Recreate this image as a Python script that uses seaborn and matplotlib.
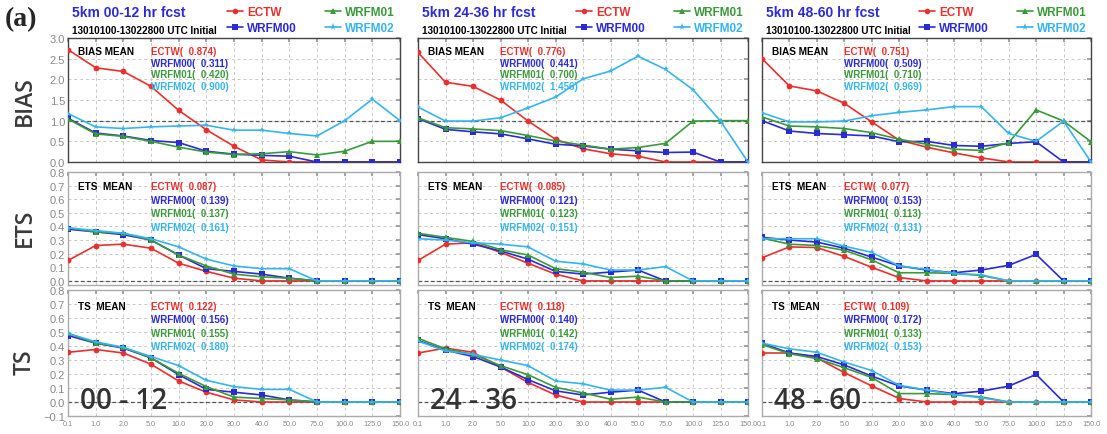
import numpy as np
import pandas as pd
import matplotlib
matplotlib.use("Agg")
import matplotlib.pyplot as plt
from matplotlib.lines import Line2D
import seaborn as sns

# ---------------- data ----------------
thresholds = ["0.1", "1.0", "2.0", "5.0", "10.0", "20.0", "30.0", "40.0",
              "50.0", "75.0", "100.0", "125.0", "150.0"]
models = ["ECTW", "WRFM00", "WRFM01", "WRFM02"]
periods = ["00-12", "24-36", "48-60"]
period_labels = ["00 - 12", "24 - 36", "48 - 60"]
metrics = ["BIAS", "ETS", "TS"]

bias_0012_ectw = [2.72, 2.28, 2.19, 1.83, 1.25, 0.78, 0.38, 0.05, 0.0, 0.0, 0.0, 0.0, 0.0]
bias_0012_wrfm00 = [1.06, 0.70, 0.63, 0.52, 0.47, 0.26, 0.19, 0.16, 0.14, 0.0, 0.0, 0.0, 0.0]
bias_0012_wrfm01 = [1.04, 0.68, 0.62, 0.50, 0.36, 0.24, 0.18, 0.20, 0.25, 0.17, 0.26, 0.50, 0.50]
bias_0012_wrfm02 = [1.17, 0.85, 0.81, 0.85, 0.87, 0.89, 0.77, 0.77, 0.69, 0.63, 1.00, 1.52, 1.00]

bias_2436_ectw = [2.65, 1.93, 1.83, 1.50, 0.99, 0.55, 0.32, 0.20, 0.14, 0.0, 0.0, 0.0, 0.0]
bias_2436_wrfm00 = [1.05, 0.79, 0.73, 0.68, 0.56, 0.43, 0.39, 0.31, 0.27, 0.23, 0.24, 0.0, 0.0]
bias_2436_wrfm01 = [1.07, 0.83, 0.80, 0.76, 0.64, 0.51, 0.41, 0.31, 0.35, 0.45, 0.99, 1.0, 1.0]
bias_2436_wrfm02 = [1.33, 0.99, 0.99, 1.07, 1.31, 1.57, 2.01, 2.20, 2.56, 2.24, 1.75, 0.99, 0.0]

bias_4860_ectw = [2.50, 1.84, 1.72, 1.42, 0.97, 0.53, 0.36, 0.22, 0.10, 0.0, 0.0, 0.0, 0.0]
bias_4860_wrfm00 = [1.00, 0.75, 0.69, 0.66, 0.63, 0.49, 0.50, 0.40, 0.38, 0.45, 0.49, 0.0, 0.0]
bias_4860_wrfm01 = [1.09, 0.87, 0.85, 0.81, 0.71, 0.55, 0.43, 0.31, 0.28, 0.47, 1.26, 0.99, 0.49]
bias_4860_wrfm02 = [1.19, 0.97, 0.97, 0.99, 1.12, 1.20, 1.26, 1.34, 1.34, 0.69, 0.50, 0.99, 0.0]

ets_0012_ectw = [0.15, 0.26, 0.27, 0.24, 0.13, 0.07, 0.02, 0.0, 0.0, 0.0, 0.0, 0.0, 0.0]
ets_0012_wrfm00 = [0.38, 0.36, 0.34, 0.30, 0.19, 0.09, 0.07, 0.05, 0.02, 0.0, 0.0, 0.0, 0.0]
ets_0012_wrfm01 = [0.39, 0.36, 0.35, 0.30, 0.19, 0.11, 0.05, 0.03, 0.02, 0.0, 0.0, 0.0, 0.0]
ets_0012_wrfm02 = [0.39, 0.37, 0.35, 0.31, 0.25, 0.16, 0.11, 0.09, 0.09, 0.0, 0.0, 0.0, 0.0]

ets_2436_ectw = [0.15, 0.27, 0.28, 0.21, 0.13, 0.05, 0.0, 0.0, 0.0, 0.0, 0.0, 0.0, 0.0]
ets_2436_wrfm00 = [0.34, 0.31, 0.27, 0.22, 0.16, 0.07, 0.05, 0.065, 0.08, 0.0, 0.0, 0.0, 0.0]
ets_2436_wrfm01 = [0.35, 0.32, 0.29, 0.23, 0.19, 0.09, 0.065, 0.025, 0.035, 0.0, 0.0, 0.0, 0.0]
ets_2436_wrfm02 = [0.31, 0.30, 0.28, 0.27, 0.25, 0.145, 0.125, 0.08, 0.08, 0.105, 0.0, 0.0, 0.0]

ets_4860_ectw = [0.17, 0.25, 0.245, 0.18, 0.10, 0.025, 0.0, 0.0, 0.0, 0.0, 0.0, 0.0, 0.0]
ets_4860_wrfm00 = [0.32, 0.30, 0.285, 0.24, 0.175, 0.11, 0.08, 0.06, 0.08, 0.115, 0.195, 0.0, 0.0]
ets_4860_wrfm01 = [0.315, 0.27, 0.26, 0.225, 0.155, 0.06, 0.06, 0.055, 0.04, 0.0, 0.0, 0.0, 0.0]
ets_4860_wrfm02 = [0.31, 0.31, 0.31, 0.255, 0.21, 0.11, 0.085, 0.055, 0.045, 0.0, 0.0, 0.0, 0.0]

ts_0012_ectw = [0.355, 0.375, 0.35, 0.27, 0.15, 0.07, 0.015, 0.0, 0.0, 0.0, 0.0, 0.0, 0.0]
ts_0012_wrfm00 = [0.475, 0.42, 0.385, 0.315, 0.195, 0.09, 0.07, 0.05, 0.015, 0.0, 0.0, 0.0, 0.0]
ts_0012_wrfm01 = [0.49, 0.42, 0.39, 0.315, 0.205, 0.11, 0.035, 0.025, 0.015, 0.0, 0.0, 0.0, 0.0]
ts_0012_wrfm02 = [0.49, 0.43, 0.39, 0.325, 0.26, 0.155, 0.11, 0.09, 0.09, 0.0, 0.0, 0.0, 0.0]

ts_2436_ectw = [0.35, 0.385, 0.355, 0.25, 0.14, 0.05, 0.0, 0.0, 0.0, 0.0, 0.0, 0.0, 0.0]
ts_2436_wrfm00 = [0.44, 0.37, 0.325, 0.25, 0.16, 0.08, 0.05, 0.07, 0.085, 0.0, 0.0, 0.0, 0.0]
ts_2436_wrfm01 = [0.455, 0.38, 0.34, 0.26, 0.195, 0.105, 0.065, 0.02, 0.035, 0.0, 0.0, 0.0, 0.0]
ts_2436_wrfm02 = [0.435, 0.365, 0.34, 0.30, 0.26, 0.15, 0.13, 0.085, 0.085, 0.105, 0.0, 0.0, 0.0]

ts_4860_ectw = [0.35, 0.35, 0.315, 0.21, 0.115, 0.025, 0.0, 0.0, 0.0, 0.0, 0.0, 0.0, 0.0]
ts_4860_wrfm00 = [0.42, 0.35, 0.325, 0.265, 0.185, 0.115, 0.085, 0.06, 0.077, 0.113, 0.197, 0.0, 0.0]
ts_4860_wrfm01 = [0.41, 0.345, 0.31, 0.245, 0.175, 0.06, 0.06, 0.053, 0.036, 0.0, 0.0, 0.0, 0.0]
ts_4860_wrfm02 = [0.42, 0.38, 0.355, 0.285, 0.225, 0.12, 0.085, 0.053, 0.03, 0.0, 0.0, 0.0, 0.0]

bias_mean_0012 = [0.874, 0.311, 0.420, 0.900]
bias_mean_2436 = [0.776, 0.441, 0.700, 1.456]
bias_mean_4860 = [0.751, 0.509, 0.710, 0.969]
ets_mean_0012 = [0.087, 0.139, 0.137, 0.161]
ets_mean_2436 = [0.085, 0.121, 0.123, 0.151]
ets_mean_4860 = [0.077, 0.153, 0.113, 0.131]
ts_mean_0012 = [0.122, 0.156, 0.155, 0.180]
ts_mean_2436 = [0.118, 0.140, 0.142, 0.174]
ts_mean_4860 = [0.109, 0.172, 0.133, 0.153]

series = {
    ("BIAS", 0): [bias_0012_ectw, bias_0012_wrfm00, bias_0012_wrfm01, bias_0012_wrfm02],
    ("BIAS", 1): [bias_2436_ectw, bias_2436_wrfm00, bias_2436_wrfm01, bias_2436_wrfm02],
    ("BIAS", 2): [bias_4860_ectw, bias_4860_wrfm00, bias_4860_wrfm01, bias_4860_wrfm02],
    ("ETS", 0): [ets_0012_ectw, ets_0012_wrfm00, ets_0012_wrfm01, ets_0012_wrfm02],
    ("ETS", 1): [ets_2436_ectw, ets_2436_wrfm00, ets_2436_wrfm01, ets_2436_wrfm02],
    ("ETS", 2): [ets_4860_ectw, ets_4860_wrfm00, ets_4860_wrfm01, ets_4860_wrfm02],
    ("TS", 0): [ts_0012_ectw, ts_0012_wrfm00, ts_0012_wrfm01, ts_0012_wrfm02],
    ("TS", 1): [ts_2436_ectw, ts_2436_wrfm00, ts_2436_wrfm01, ts_2436_wrfm02],
    ("TS", 2): [ts_4860_ectw, ts_4860_wrfm00, ts_4860_wrfm01, ts_4860_wrfm02],
}
means = {
    ("BIAS", 0): bias_mean_0012, ("BIAS", 1): bias_mean_2436, ("BIAS", 2): bias_mean_4860,
    ("ETS", 0): ets_mean_0012, ("ETS", 1): ets_mean_2436, ("ETS", 2): ets_mean_4860,
    ("TS", 0): ts_mean_0012, ("TS", 1): ts_mean_2436, ("TS", 2): ts_mean_4860,
}

# ---------------- style ----------------
sns.set_theme(style="white")
plt.rcParams["font.family"] = ["Liberation Sans", "DejaVu Sans"]

colors = {"ECTW": "#e8312f", "WRFM00": "#2b2bd6", "WRFM01": "#3a9a3a", "WRFM02": "#36b4ee"}
markers = {"ECTW": "o", "WRFM00": "s", "WRFM01": "^", "WRFM02": "*"}

W, H = 1107, 435
fig = plt.figure(figsize=(W / 100, H / 100), dpi=100)

col_px = [(68, 400), (418, 748), (762, 1091)]
row_px = {"BIAS": (39, 163), "ETS": (173, 286), "TS": (291, 417)}
ylims = {"BIAS": (0.0, 3.0), "ETS": (-0.03, 0.8), "TS": (-0.1, 0.8)}
yticks = {"BIAS": np.arange(0, 3.01, 0.5), "ETS": np.arange(0, 0.81, 0.1),
          "TS": np.arange(-0.1, 0.81, 0.1)}
mean_y = {"BIAS": (0.895, 0.093), "ETS": (0.876, 0.12), "TS": (0.873, 0.107)}
row_label_y = {"BIAS": 101, "ETS": 228, "TS": 362}

for metric in metrics:
    top, bot = row_px[metric]
    for c in range(3):
        l, r = col_px[c]
        ax = fig.add_axes([l / W, 1 - bot / H, (r - l) / W, (bot - top) / H])
        vals = series[(metric, c)]
        df = pd.DataFrame({
            "x": np.tile(np.arange(len(thresholds)), len(models)),
            "value": np.concatenate(vals),
            "model": np.repeat(models, len(thresholds)),
        })
        ax.set_xlim(0, len(thresholds) - 1)
        ax.set_ylim(*ylims[metric])
        ax.set_xticks(np.arange(len(thresholds)))
        ax.set_yticks(yticks[metric])
        ax.grid(True, color="#c8c8c8", linestyle=(0, (3, 3)), linewidth=0.7)
        ref = 1.0 if metric == "BIAS" else 0.0
        ax.axhline(ref, color="#555555", linestyle=(0, (3, 2)), linewidth=0.9, zorder=1)
        sns.lineplot(data=df, x="x", y="value", hue="model", style="model",
                     hue_order=models, style_order=models, palette=colors,
                     markers=markers, dashes=False, markersize=4.2, linewidth=1.2,
                     markeredgewidth=0, legend=False, ax=ax, zorder=3)
        ax.set_xlabel("")
        ax.set_ylabel("")
        ax.tick_params(direction="in", length=3, color="#999999", labelsize=8,
                       labelcolor="#888888", pad=2, top=True, right=True)
        ax.tick_params(axis="x", labelsize=5.2, pad=3)
        if metric == "TS":
            ax.set_xticklabels(thresholds)
        else:
            ax.set_xticklabels([])
        if c == 0:
            ax.set_yticklabels([f"{v:.1f}".replace("-", "\u2212") for v in yticks[metric]])
        else:
            ax.set_yticklabels([])
        spine_col = "#444444" if metric == "BIAS" else "#aaaaaa"
        for s in ax.spines.values():
            s.set_color(spine_col)
            s.set_linewidth(1.0)

        # mean statistics text
        y0, dy = mean_y[metric]
        mlabel = "BIAS MEAN" if metric == "BIAS" else f"{metric}  MEAN"
        ax.text(0.03, y0, mlabel, transform=ax.transAxes, fontsize=7.2,
                fontweight="bold", color="black", va="center")
        for k, m in enumerate(models):
            ax.text(0.25, y0 - k * dy, f"{m}(  {means[(metric, c)][k]:.3f})",
                    transform=ax.transAxes, fontsize=7, fontweight="bold",
                    color=colors[m], va="center")

        if metric == "BIAS":
            ax.text(0.012, 1 + 26 / 124, f"5km {periods[c]} hr fcst",
                    transform=ax.transAxes, fontsize=10, fontweight="bold",
                    color="#2b2bd6", va="center")
            ax.text(0.012, 1 + 8 / 124, "13010100-13022800 UTC Initial",
                    transform=ax.transAxes, fontsize=7.2, fontweight="bold",
                    color="black", va="center")
            handles = [Line2D([], [], color=colors[m], marker=markers[m],
                              markersize=4 if m != "WRFM02" else 5.5,
                              markeredgewidth=0, linewidth=1.2) for m in models]
            ax.legend(handles, models, ncol=2, loc="center left",
                      bbox_to_anchor=(0.478, 1 + 18 / 124), frameon=False,
                      borderpad=0, borderaxespad=0, handlelength=1.35,
                      handletextpad=0.35, labelspacing=0.4,
                      columnspacing=2.4, labelcolor="linecolor",
                      prop={"size": 8.5, "weight": "bold"})
        if metric == "TS":
            ax.text(0.035, 0.12, period_labels[c], transform=ax.transAxes,
                    fontsize=20, color="#333333", va="center",
                    family=["Open Sans", "DejaVu Sans"], fontweight="semibold",
                    zorder=5)

    fig.text(25 / W, 1 - row_label_y[metric] / H, metric, rotation=90,
             fontsize=16.5, color="#3a3a3a", ha="center", va="center",
             family=["Open Sans", "DejaVu Sans"], fontweight="semibold")

fig.text(5 / W, 1 - 20 / H, "(a)", fontsize=20, fontweight="bold",
         family=["Liberation Serif", "DejaVu Serif"], va="center", ha="left")

fig.savefig("out.png", dpi=100)
